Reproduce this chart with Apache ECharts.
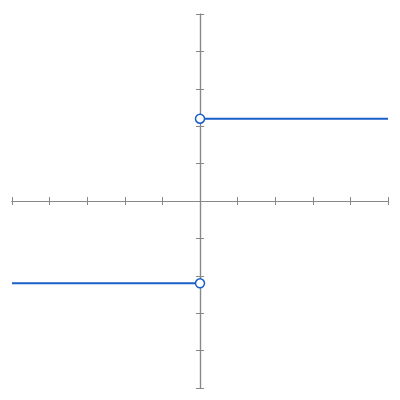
<!DOCTYPE html>
<html><head><meta charset="utf-8">
<script src="https://cdn.jsdelivr.net/npm/echarts@6/dist/echarts.min.js"></script>
<style>html,body{margin:0;background:#fff}#main{width:400px;height:400px}</style>
</head><body><div id="main"></div>
<script>
var leftX = [-5, 0], leftY = [-2.2, -2.2];
var rightX = [0, 5], rightY = [2.2, 2.2];
var lineColor = '#1a5fc9';

function seg(xs, ys, dotIndex) {
    return xs.map(function(x, i){
        return i === dotIndex ? [x, ys[i]] : {value: [x, ys[i]], symbol: 'none'};
    });
}
function axis(inside, pos) {
    return {
        type: 'value', min: -5, max: 5, interval: 1, position: pos,
        axisLine: {onZero: true, onZeroAxisIndex: 0, lineStyle: {color: '#888', width: 1.2}},
        axisTick: {show: true, inside: inside, length: 4, lineStyle: {color: '#888'}},
        axisLabel: {show: false}, splitLine: {show: false}
    };
}
var chart = echarts.init(document.getElementById('main'));
chart.setOption({
    animation: false,
    grid: {left: 12, right: 12, top: 14, bottom: 12},
    xAxis: [axis(false, 'bottom'), axis(true, 'bottom')],
    yAxis: [axis(false, 'left'), axis(true, 'left')],
    series: [
        {type: 'line', data: seg(leftX, leftY, 1), symbol: 'circle', symbolSize: 9,
         lineStyle: {color: lineColor, width: 2},
         itemStyle: {color: '#fff', borderColor: lineColor, borderWidth: 1.5}},
        {type: 'line', data: seg(rightX, rightY, 0), symbol: 'circle', symbolSize: 9,
         lineStyle: {color: lineColor, width: 2},
         itemStyle: {color: '#fff', borderColor: lineColor, borderWidth: 1.5}}
    ]
});
</script></body></html>
